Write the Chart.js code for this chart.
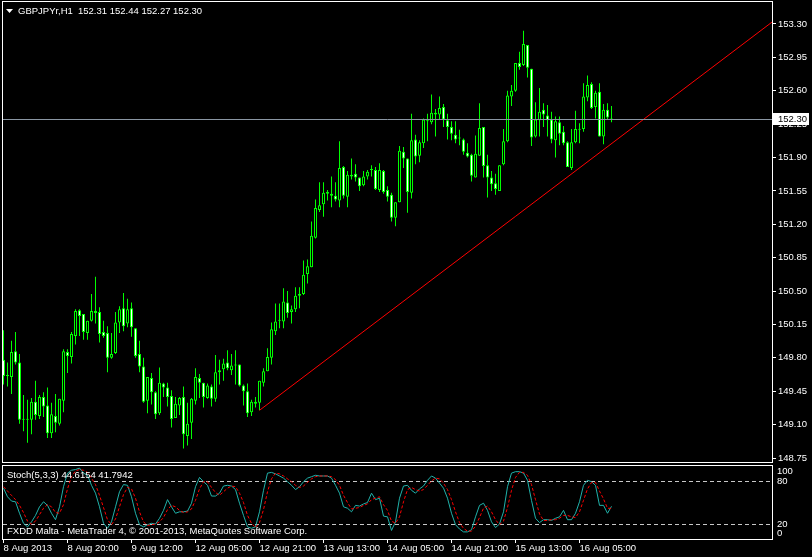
<!DOCTYPE html>
<html>
<head>
<meta charset="utf-8">
<script src="https://cdn.jsdelivr.net/npm/chart.js@4.4.1/dist/chart.umd.min.js"></script>
<style>
  html, body { margin: 0; padding: 0; background: #000; }
  #wrap { position: relative; width: 812px; height: 557px; overflow: hidden; background: #000; }
  canvas { position: absolute; left: 0; }
  #price { top: 0; }
  #stoch { top: 463px; }
</style>
</head>
<body>
<div id="wrap">
  <canvas id="price" width="812" height="463"></canvas>
  <canvas id="stoch" width="812" height="94"></canvas>
</div>
<script>
const symbol = "GBPJPYr,H1";
const lastBar = [152.31, 152.44, 152.27, 152.30];

// hourly candles, 8 Aug 04:00 .. 16 Aug 13:00
const opens = [
  149.78,149.61,149.60,149.87,149.75,149.15,149.15,149.15,149.34,149.19,
  149.39,149.30,149.01,149.19,149.11,149.35,149.86,149.81,150.03,150.30,
  150.26,150.06,150.19,150.29,150.28,150.07,150.06,149.80,149.85,150.17,
  150.32,150.16,150.32,150.11,149.84,149.71,149.35,149.59,149.44,149.22,
  149.53,149.49,149.40,149.17,149.30,149.39,148.98,149.12,149.35,149.59,
  149.54,149.38,149.50,149.37,149.65,149.68,149.75,149.67,149.72,149.73,
  149.51,149.45,149.23,149.34,149.33,149.54,149.66,149.80,150.08,150.19,
  150.18,150.38,150.28,150.31,150.45,150.47,150.68,150.75,151.06,151.35,
  151.41,151.54,151.52,151.50,151.45,151.80,151.49,151.72,151.73,151.69,
  151.61,151.70,151.77,151.77,151.56,151.76,151.56,151.51,151.27,151.43,
  151.96,151.89,151.53,152.09,151.92,152.05,152.29,152.27,152.37,152.35,
  152.43,152.29,152.22,152.14,152.10,152.09,151.95,151.93,151.69,151.92,
  152.22,151.82,151.69,151.63,151.55,151.83,152.07,152.54,152.60,152.89,
  152.87,153.08,152.83,152.12,152.29,152.40,152.34,152.30,152.08,152.27,
  152.17,152.06,151.79,152.06,152.19,152.20,152.53,152.67,152.43,152.59,
  152.12,152.40,152.31
];
const highs = [
  150.09,149.75,149.98,150.07,149.84,149.41,149.36,149.38,149.56,149.41,
  149.44,149.49,149.33,149.42,149.37,149.89,149.89,150.07,150.31,150.31,
  150.26,150.19,150.47,150.65,150.33,150.19,150.13,150.06,150.28,150.34,
  150.48,150.42,150.38,150.11,149.98,149.80,149.60,149.64,149.45,149.70,
  149.54,149.54,149.46,149.39,149.39,149.50,149.33,149.38,149.69,149.63,
  149.54,149.53,149.52,149.83,149.78,149.79,149.88,149.84,149.88,149.73,
  149.52,149.53,149.36,149.39,149.56,149.69,149.90,150.17,150.37,150.37,
  150.53,150.50,150.35,150.54,150.54,150.82,150.83,151.23,151.46,151.64,
  151.64,151.56,151.70,151.64,152.07,151.81,151.76,151.89,151.83,151.69,
  151.76,151.77,151.82,151.80,151.84,151.77,151.60,151.53,151.43,152.02,
  152.01,151.89,152.36,152.14,152.08,152.31,152.36,152.56,152.41,152.54,
  152.46,152.36,152.28,152.28,152.19,152.10,152.05,151.94,152.13,152.47,
  152.22,151.93,151.76,151.73,151.82,152.20,152.60,152.66,152.89,153.01,
  153.23,153.08,152.83,152.48,152.63,152.47,152.45,152.38,152.33,152.33,
  152.23,152.07,152.20,152.39,152.26,152.68,152.76,152.69,152.60,152.68,
  152.46,152.47,152.44
];
const lows = [
  149.52,149.50,149.42,149.73,149.11,149.03,148.91,149.00,149.15,149.16,
  149.18,148.96,148.96,149.02,149.09,149.23,149.64,149.74,149.94,150.03,
  149.99,149.99,150.18,150.16,149.96,150.01,149.65,149.79,149.84,150.06,
  150.08,150.12,150.02,149.80,149.65,149.33,149.22,149.31,149.16,149.20,
  149.39,149.29,149.07,149.17,149.20,148.85,148.88,148.95,149.31,149.38,
  149.28,149.37,149.29,149.34,149.52,149.56,149.67,149.62,149.52,149.50,
  149.30,149.18,149.19,149.28,149.25,149.50,149.66,149.73,150.04,150.11,
  150.11,150.22,150.16,150.28,150.32,150.46,150.58,150.75,151.05,151.33,
  151.28,151.45,151.38,151.44,151.38,151.47,151.38,151.67,151.65,151.55,
  151.60,151.67,151.70,151.56,151.54,151.52,151.44,151.23,151.18,151.43,
  151.79,151.32,151.47,151.83,151.85,152.00,152.07,152.25,152.12,152.30,
  152.22,152.09,152.08,152.05,152.03,151.93,151.90,151.65,151.69,151.92,
  151.69,151.48,151.55,151.51,151.55,151.82,152.06,152.44,152.59,152.82,
  152.86,152.74,152.02,152.11,152.12,152.22,152.12,152.05,151.90,152.03,
  152.03,151.80,151.77,152.05,152.05,152.17,152.49,152.41,152.31,152.12,
  152.04,152.30,152.27
];
const closes = [
  149.61,149.61,149.86,149.75,149.15,149.15,149.15,149.34,149.20,149.39,
  149.29,149.01,149.21,149.12,149.37,149.87,149.82,150.05,150.29,150.24,
  150.07,150.19,150.29,150.27,150.05,150.03,149.80,149.84,150.17,150.31,
  150.13,150.31,150.12,149.82,149.71,149.34,149.60,149.44,149.21,149.54,
  149.49,149.39,149.16,149.32,149.38,149.00,149.11,149.37,149.60,149.54,
  149.39,149.51,149.37,149.65,149.67,149.74,149.69,149.72,149.72,149.51,
  149.45,149.22,149.34,149.32,149.56,149.66,149.81,150.10,150.18,150.20,
  150.39,150.27,150.31,150.45,150.47,150.67,150.76,151.08,151.37,151.40,
  151.53,151.52,151.50,151.46,151.79,151.50,151.72,151.70,151.69,151.60,
  151.70,151.75,151.78,151.57,151.77,151.54,151.49,151.27,151.43,151.97,
  151.89,151.54,152.08,151.91,152.06,152.30,152.28,152.37,152.35,152.42,
  152.30,152.22,152.15,152.09,152.11,151.96,151.91,151.71,151.94,152.21,
  151.81,151.69,151.62,151.57,151.82,152.07,152.55,152.60,152.89,152.85,
  153.09,152.84,152.11,152.30,152.38,152.35,152.29,152.09,152.28,152.15,
  152.05,151.80,152.06,152.20,152.19,152.54,152.66,152.42,152.58,152.12,
  152.40,152.32,152.30
];

// Stochastic (5,3,3)
const stochK = [
  70,58,52,51,35,21,16,23,32,44, 51,46,35,26,44,72,91,95,96,98,
  91,88,74,63,44,21,14,23,44,65, 75,74,58,35,19,16,19,21,20,28,
  39,54,44,35,37,37,38,49,72,85, 79,74,59,59,63,73,74,73,68,49,
  32,16,14,16,37,67,91,92,90,87, 84,79,74,68,72,79,84,86,88,87,
  87,87,84,74,63,44,42,37,46,45, 48,50,63,54,56,31,30,11,23,56,
  73,74,67,63,69,73,81,87,84,77, 70,56,35,19,13,9,9,12,30,46,
  49,39,23,15,20,37,72,91,93,93, 91,81,53,28,22,26,26,25,28,30,
  39,26,26,35,51,74,81,79,74,46, 46,35,44.6154
];
const stochD = [
  72,66,60,54,46,36,24,20,24,33, 42,47,44,36,35,47,69,86,94,96,
  95,92,84,75,60,43,26,19,27,44, 61,71,69,56,37,23,18,19,20,23,
  29,40,46,44,39,36,37,41,53,69, 79,79,71,64,60,65,70,73,72,63,
  50,32,21,15,22,40,65,83,91,90, 87,83,79,74,71,73,78,83,86,87,
  87,87,86,82,74,60,50,41,42,43, 46,48,54,56,58,47,39,24,21,30,
  51,68,71,68,66,68,74,80,84,83, 77,68,54,37,22,14,10,10,17,29,
  42,45,37,26,19,24,43,67,85,92, 92,88,75,54,34,25,25,26,26,28,
  32,32,30,29,37,53,69,78,78,66, 55,42,41.7942
];
const stochLevels = [80, 20];
const stochLabels = [100, 80, 20, 0];

const priceTicks = [153.30,152.95,152.60,152.25,151.90,151.55,151.20,150.85,150.50,150.15,149.80,149.45,149.10,148.75];
const timeTicks = [0,16,32,48,64,80,96,112,128,144];
const timeLabels = ["8 Aug 2013","8 Aug 20:00","9 Aug 12:00","12 Aug 05:00","12 Aug 21:00",
                    "13 Aug 13:00","14 Aug 05:00","14 Aug 21:00","15 Aug 13:00","16 Aug 05:00"];
// trend line anchor points [bar index, price]
const trendLine = [[64, 149.25], [192.125, 153.32]];

const FONT = '"Liberation Sans", Arial, sans-serif';
const FS = 9.5;
const LIME = "#00ff00";

function frame(chart) {
  const a = chart.chartArea, ctx = chart.ctx;
  ctx.save();
  ctx.strokeStyle = "#fff";
  ctx.lineWidth = 1;
  ctx.strokeRect(a.left - 0.5, a.top - 0.5, a.right - a.left + 1, a.bottom - a.top + 1);
  ctx.restore();
}

const priceDecor = {
  id: "priceDecor",
  beforeDraw(chart) {
    const ctx = chart.ctx;
    ctx.save();
    ctx.fillStyle = "#000";
    ctx.fillRect(0, 0, chart.width, chart.height);
    ctx.restore();
  },
  afterDatasetsDraw(chart) {
    const a = chart.chartArea, ctx = chart.ctx;
    const y = Math.round(chart.scales.y.getPixelForValue(lastBar[3])) + 0.5;
    ctx.save();
    ctx.strokeStyle = "#8a96a3";
    ctx.lineWidth = 1;
    ctx.beginPath();
    ctx.moveTo(a.left, y);
    ctx.lineTo(a.right, y);
    ctx.stroke();
    ctx.restore();
  },
  afterDraw(chart) {
    const a = chart.chartArea, ctx = chart.ctx;
    frame(chart);
    ctx.save();
    // header
    ctx.fillStyle = "#fff";
    ctx.beginPath();
    ctx.moveTo(6, 9); ctx.lineTo(13, 9); ctx.lineTo(9.5, 13); ctx.closePath();
    ctx.fill();
    ctx.font = FS + "px " + FONT;
    ctx.textBaseline = "middle";
    ctx.fillText(symbol, 18, 11);
    ctx.fillText(lastBar.map(v => v.toFixed(2)).join(" "), 78, 11);
    // current price box
    const y = Math.round(chart.scales.y.getPixelForValue(lastBar[3]));
    ctx.fillStyle = "#fff";
    ctx.fillRect(a.right + 1, y - 6, 36, 12);
    ctx.fillStyle = "#000";
    ctx.fillText(lastBar[3].toFixed(2), a.right + 6, y + 0.5);
    ctx.restore();
  }
};

new Chart(document.getElementById("price"), {
  type: "bar",
  data: {
    datasets: [
      {
        type: "line",
        label: "trend",
        data: trendLine.map(p => ({ x: p[0], y: p[1] })),
        borderColor: "#ff0000",
        borderWidth: 1,
        pointRadius: 0,
        order: 0
      },
      {
        label: "body",
        data: opens.map((o, i) => ({ x: i, y: [o, closes[i]] })),
        grouped: false,
        barThickness: 3,
        backgroundColor: c => closes[c.dataIndex] >= opens[c.dataIndex] ? "#000" : "#fff",
        borderColor: LIME,
        borderWidth: 1,
        borderSkipped: false,
        minBarLength: 1,
        inflateAmount: 0,
        order: 1
      },
      {
        label: "wick",
        data: lows.map((l, i) => ({ x: i, y: [l, highs[i]] })),
        grouped: false,
        barThickness: 1,
        backgroundColor: LIME,
        borderWidth: 0,
        inflateAmount: 0,
        order: 2
      }
    ]
  },
  options: {
    responsive: false,
    animation: false,
    events: [],
    layout: { padding: { left: 3, top: 2, right: 0, bottom: 1 } },
    plugins: { legend: { display: false }, tooltip: { enabled: false } },
    scales: {
      x: { type: "linear", display: false, min: -0.125, max: 192.125, offset: false },
      y: {
        type: "linear",
        position: "right",
        min: 148.7081,
        max: 153.5306,
        afterBuildTicks: s => { s.ticks = priceTicks.map(v => ({ value: v })); },
        afterFit: s => { s.width = 40; s.paddingTop = 0; s.paddingBottom = 0; },
        grid: { display: true, drawOnChartArea: false, drawTicks: true, tickLength: 4, color: "#fff" },
        border: { display: true, color: "#fff" },
        ticks: {
          color: "#fff",
          padding: 2,
          autoSkip: false,
          font: { family: FONT, size: FS },
          callback: v => Number(v).toFixed(2)
        }
      }
    }
  },
  plugins: [priceDecor]
});

const stochDecor = {
  id: "stochDecor",
  beforeDraw(chart) {
    const ctx = chart.ctx;
    ctx.save();
    ctx.fillStyle = "#000";
    ctx.fillRect(0, 0, chart.width, chart.height);
    ctx.restore();
  },
  beforeDatasetsDraw(chart) {
    const a = chart.chartArea, ctx = chart.ctx, ys = chart.scales.y;
    ctx.save();
    ctx.strokeStyle = "#c8c8c8";
    ctx.lineWidth = 1;
    ctx.setLineDash([4, 3]);
    stochLevels.forEach(v => {
      const y = Math.round(ys.getPixelForValue(v)) + 0.5;
      ctx.beginPath();
      ctx.moveTo(a.left, y);
      ctx.lineTo(a.right, y);
      ctx.stroke();
    });
    ctx.restore();
  },
  afterDraw(chart) {
    const a = chart.chartArea, ctx = chart.ctx, ys = chart.scales.y;
    frame(chart);
    ctx.save();
    ctx.fillStyle = "#fff";
    ctx.font = FS + "px " + FONT;
    ctx.textBaseline = "middle";
    ctx.fillText("Stoch(5,3,3) " + stochK[stochK.length - 1].toFixed(4) + " " + stochD[stochD.length - 1].toFixed(4), 7, 12);
    ctx.fillText("FXDD Malta - MetaTrader 4, \u00a9 2001-2013, MetaQuotes Software Corp.", 7, 68);
    stochLabels.forEach(v => {
      let y = ys.getPixelForValue(v);
      if (v === 100) y += 5;
      if (v === 0) y -= 5;
      ctx.fillText(String(v), a.right + 5, y);
    });
    ctx.restore();
  }
};

new Chart(document.getElementById("stoch"), {
  type: "line",
  data: {
    datasets: [
      {
        label: "%K",
        data: stochK.map((v, i) => ({ x: i, y: v })),
        borderColor: "#20b2aa",
        borderWidth: 1,
        pointRadius: 0,
        tension: 0,
        order: 1
      },
      {
        label: "%D",
        data: stochD.map((v, i) => ({ x: i, y: v })),
        borderColor: "#ff0000",
        borderWidth: 1,
        borderDash: [3, 2],
        pointRadius: 0,
        tension: 0,
        order: 0
      }
    ]
  },
  options: {
    responsive: false,
    animation: false,
    events: [],
    layout: { padding: { left: 3, top: 3, right: 0, bottom: 0 } },
    plugins: { legend: { display: false }, tooltip: { enabled: false } },
    scales: {
      x: {
        type: "linear",
        position: "bottom",
        min: -0.125,
        max: 192.125,
        offset: false,
        afterBuildTicks: s => { s.ticks = timeTicks.map(v => ({ value: v })); },
        afterFit: s => { s.height = 18; s.paddingLeft = 0; s.paddingRight = 0; },
        grid: { display: true, drawOnChartArea: false, drawTicks: true, tickLength: 4, color: "#fff" },
        border: { display: true, color: "#fff" },
        ticks: {
          color: "#fff",
          align: "start",
          maxRotation: 0,
          autoSkip: false,
          padding: 0,
          font: { family: FONT, size: FS },
          callback: (v, i) => timeLabels[i]
        }
      },
      y: {
        type: "linear",
        position: "right",
        min: -0.93,
        max: 100.93,
        afterFit: s => { s.width = 40; s.paddingTop = 0; s.paddingBottom = 0; },
        grid: { display: false },
        ticks: { display: false },
        border: { display: true, color: "#fff" }
      }
    }
  },
  plugins: [stochDecor]
});
</script>
</body>
</html>
